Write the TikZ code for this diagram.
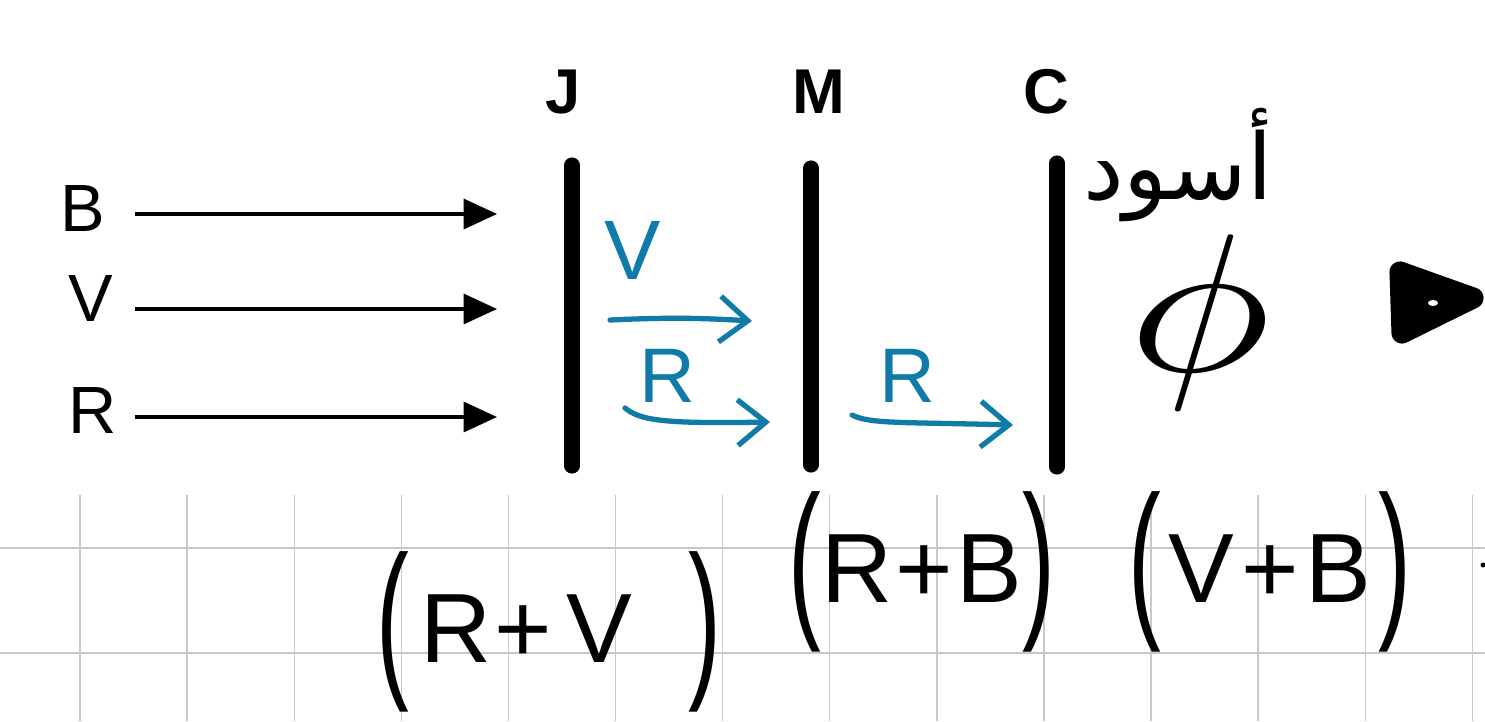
\documentclass[tikz,border=0pt]{standalone}
\usepackage{fontspec}
\setmainfont{Liberation Sans}
\newfontfamily\arabicfont[Script=Arabic]{DejaVu Sans}
\TeXXeTstate=1
\usetikzlibrary{arrows.meta}
\definecolor{ink}{RGB}{16,122,168}
\definecolor{gridc}{RGB}{200,200,200}
\newcommand{\tallpar}[1]{\raisebox{-4pt}{\scalebox{1}[1.75]{#1}}}
\begin{document}
\begin{tikzpicture}[x=0.01cm,y=-0.01cm,
  lbl/.style={font=\fontsize{19}{22}\selectfont, inner sep=0pt},
  plate/.style={font=\bfseries\fontsize{18}{21}\selectfont, inner sep=0pt},
  ray/.style={line width=1.1pt, -{Triangle[length=9.5pt,width=8.5pt]}},
  barline/.style={line width=4.3pt, line cap=round},
  pen/.style={ink, line width=1.5pt, line cap=round, line join=round},
  penarrow/.style={pen, -{Straight Barb[length=8pt,width=13pt,line width=1.5pt]}},
  pentext/.style={ink, inner sep=0pt, font=\fontsize{22}{26}\selectfont},
  hand/.style={inner sep=0pt, font=\fontsize{28}{32}\selectfont},
  gridline/.style={gridc, line width=0.4pt}
]
\useasboundingbox (0,0) rectangle (1485,721);
\fill[white] (0,0) rectangle (1485,721);

% grid
\foreach \k in {0,...,13} {
  \draw[gridline] ({80+107.1*\k},495) -- ({80+107.1*\k},721);
}
\draw[gridline, line width=0.7pt] (0,548) -- (1485,548);
\draw[gridline, line width=0.7pt] (0,653) -- (1485,653);

% incoming rays
\node[lbl] (lB) at (83,209) {B};
\node[lbl] (lV) at (91,299) {V};
\node[lbl] (lR) at (93,411) {R};
\coordinate (sB) at (135,214); \coordinate (eB) at (497,214);
\coordinate (sV) at (135,309); \coordinate (eV) at (497,309);
\coordinate (sR) at (135,417); \coordinate (eR) at (497,417);
\draw[ray] (sB) -- (eB);
\draw[ray] (sV) -- (eV);
\draw[ray] (sR) -- (eR);

% filters
\node[plate] (J) at (563,92) {J};
\node[plate] (M) at (819,92) {M};
\node[plate] (C) at (1046,92) {C};
\coordinate (Jt) at (572,165); \coordinate (Jb) at (572,466);
\coordinate (Mt) at (811,168); \coordinate (Mb) at (811,465);
\coordinate (Ct) at (1057,163); \coordinate (Cb) at (1057,467);
\draw[barline] (Jt) -- (Jb);
\draw[barline] (Mt) -- (Mb);
\draw[barline] (Ct) -- (Cb);

% blue annotations
\node[pentext, font=\fontsize{24}{28}\selectfont] (bV) at (633,250) {V};
\coordinate (a1s) at (610,320); \coordinate (a1e) at (752,321);
\draw[penarrow] (a1s) to[bend left=3] (a1e);
\node[pentext] (bR1) at (667,376) {R};
\coordinate (a2s) at (625,408); \coordinate (a2e) at (770,422);
\draw[penarrow] (a2s) .. controls (640,420) and (660,424) .. (a2e);
\node[pentext] (bR2) at (907,376) {R};
\coordinate (a3s) at (852,415); \coordinate (a3e) at (1013,425);
\draw[penarrow] (a3s) .. controls (870,424) and (900,422) .. (a3e);

% right side
\node[inner sep=0pt, font=\arabicfont\fontsize{26}{30}\selectfont] (aswad) at (1178,165) {\beginR أسود\endR};
\node[inner sep=0pt] (phi) at (1200,322) {\scalebox{6.8}[5.6]{$\phi$}};
\fill[line width=6pt, line join=round, draw] (1400,272) -- (1473,298) -- (1402,333) -- cycle;
\fill[white] (1433,303) ellipse (5 and 3);

% handwritten expressions
\node[hand] (e1) at (549,632) {\tallpar{(}\hspace{3pt}R\hspace{1pt}+\hspace{4pt}V\hspace{16pt}\tallpar{)}};
\node[hand] (e2) at (922,572) {\tallpar{(}R\hspace{1pt}+\hspace{1pt}B\tallpar{)}};
\node[hand] (e3) at (1270,572) {\tallpar{(}\hspace{2pt}V\hspace{2pt}+\hspace{2pt}B\hspace{2pt}\tallpar{)}};
\fill (1483,565) circle (2.5);
\end{tikzpicture}
\end{document}
